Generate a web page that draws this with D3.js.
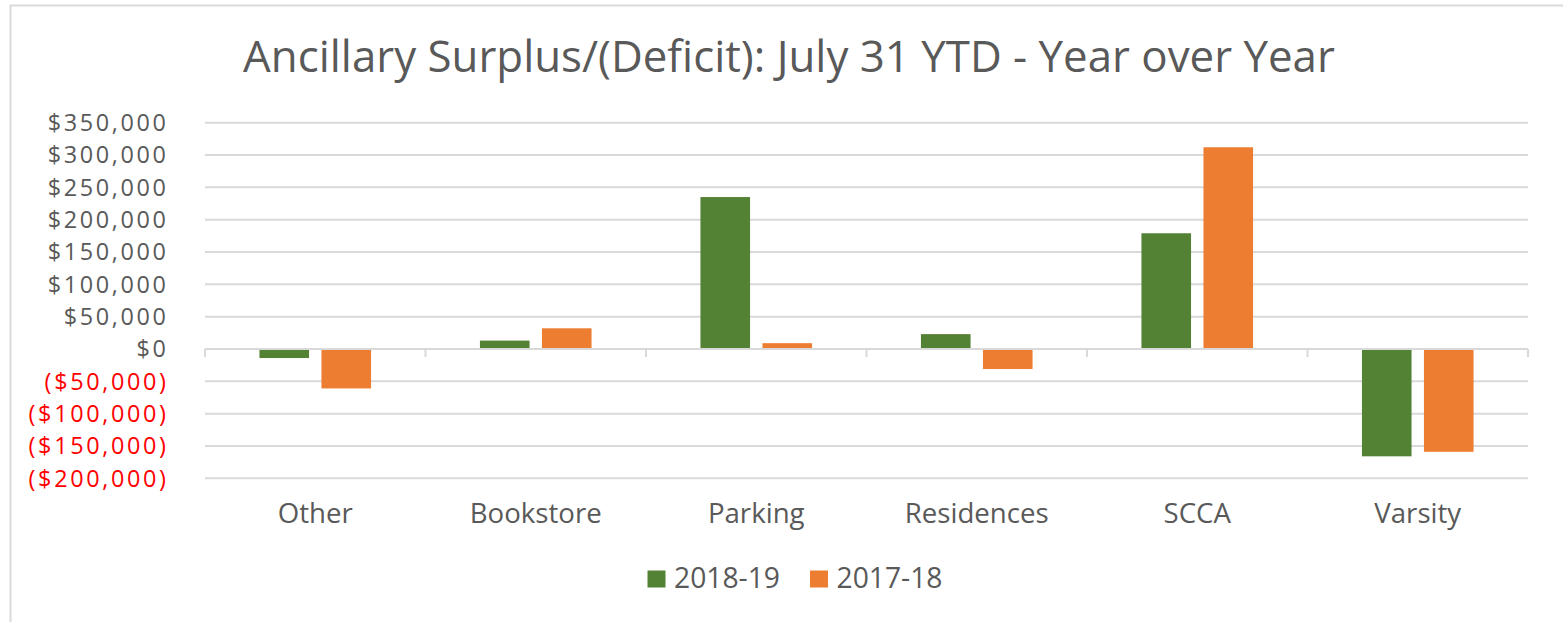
<!DOCTYPE html>
<html>
<head>
<meta charset="utf-8">
<script src="https://cdn.jsdelivr.net/npm/d3@7"></script>
<style>
  html, body { margin: 0; padding: 0; background: #fff; }
  svg { display: block; }
  text { font-family: "Open Sans", sans-serif; }
</style>
</head>
<body>
<script>
const title = "Ancillary Surplus/(Deficit): July 31 YTD - Year over Year";
const categories = ["Other", "Bookstore", "Parking", "Residences", "SCCA", "Varsity"];
const seriesNames = ["2018-19", "2017-18"];
const values2018_19 = [-14000, 13000, 235000, 23000, 179000, -166000];
const values2017_18 = [-61000, 32000, 9000, -31000, 312000, -159000];
const yTicks = [350000, 300000, 250000, 200000, 150000, 100000, 50000, 0, -50000, -100000, -150000, -200000];
const colors = ["#548235", "#ED7D31"];

const W = 1563, H = 622;
const svg = d3.select("body").append("svg").attr("width", W).attr("height", H);

// outer frame
svg.append("path").attr("d", `M10.5,${H} L10.5,5.5 L${W},5.5`)
  .attr("fill", "none").attr("stroke", "#D9D9D9").attr("stroke-width", 2);

const plotL = 205, plotR = 1528;
const y = d3.scaleLinear().domain([-200000, 350000]).range([478.3, 122.7]);
const x0 = d3.scaleBand().domain(categories).range([plotL, plotR]).padding(0);
const x1 = d3.scaleBand().domain(seriesNames).range([0, x0.bandwidth()]).paddingInner(0.2).paddingOuter(0.878);

function fitFont(sel, targetW, base) {
  sel.attr("font-size", base);
  const w = sel.node().getComputedTextLength();
  sel.attr("font-size", base * targetW / w);
  return base * targetW / w;
}

// gridlines
svg.append("g").selectAll("line").data(yTicks).join("line")
  .attr("x1", plotL).attr("x2", plotR)
  .attr("y1", d => y(d)).attr("y2", d => y(d))
  .attr("stroke", "#D9D9D9").attr("stroke-width", 2);

// y labels (fixed size so boxes do not overlap, widened with letter spacing)
const fmt = v => v < 0 ? "($" + d3.format(",")(-v) + ")" : "$" + d3.format(",")(v);
const ySize = 23.4;
const probe = svg.append("text").attr("font-size", ySize).text("$350,000");
const natW = probe.node().getComputedTextLength();
probe.remove();
const ls = Math.max(0, (121 - natW) / 8);
svg.append("g").selectAll("text").data(yTicks).join("text")
  .attr("x", 166 + ls).attr("y", d => y(d)).attr("dy", "0.36em")
  .attr("text-anchor", "end").attr("font-size", ySize)
  .attr("letter-spacing", ls)
  .attr("fill", d => d < 0 ? "#FF0000" : "#595959")
  .text(fmt);

// bars
const data = categories.map((c, i) => ({ c, vals: [values2018_19[i], values2017_18[i]] }));
const groups = svg.append("g").selectAll("g").data(data).join("g")
  .attr("transform", d => `translate(${x0(d.c)},0)`);
groups.selectAll("rect").data(d => d.vals.map((v, i) => ({ v, s: seriesNames[i], i })))
  .join("rect")
  .attr("x", d => x1(d.s))
  .attr("width", x1.bandwidth())
  .attr("y", d => Math.min(y(d.v), y(0)))
  .attr("height", d => Math.abs(y(d.v) - y(0)))
  .attr("fill", d => colors[d.i]);

// zero axis + ticks
svg.append("line").attr("x1", plotL).attr("x2", plotR).attr("y1", y(0)).attr("y2", y(0))
  .attr("stroke", "#D9D9D9").attr("stroke-width", 2);
const bounds = categories.map(c => x0(c)).concat([plotR]);
svg.append("g").selectAll("line").data(bounds).join("line")
  .attr("x1", d => d).attr("x2", d => d)
  .attr("y1", y(0)).attr("y2", y(0) + 8)
  .attr("stroke", "#D9D9D9").attr("stroke-width", 2);

// category labels
const p2 = svg.append("text").text("Bookstore");
const cSize = fitFont(p2, 132, 24);
p2.remove();
svg.append("g").selectAll("text").data(categories).join("text")
  .attr("x", d => x0(d) + x0.bandwidth() / 2).attr("y", 523)
  .attr("text-anchor", "middle").attr("font-size", cSize).attr("fill", "#595959")
  .text(d => d);

// title
const t = svg.append("text").attr("x", 789).attr("y", 72).attr("text-anchor", "middle")
  .attr("fill", "#595959").text(title);
fitFont(t, 1092, 36);

// legend
const legX = [647.5, 810];
const lg = svg.append("g").selectAll("g").data(seriesNames).join("g")
  .attr("transform", (d, i) => `translate(${legX[i]},0)`);
lg.append("rect").attr("x", 0).attr("y", 570.5).attr("width", 18).attr("height", 17)
  .attr("fill", (d, i) => colors[i]);
const p3 = svg.append("text").text("2018-19");
const lSize = fitFont(p3, 106, 24);
p3.remove();
lg.append("text").attr("x", 26.5).attr("y", 587.5).attr("font-size", lSize)
  .attr("fill", "#595959").text(d => d);
</script>
</body>
</html>
